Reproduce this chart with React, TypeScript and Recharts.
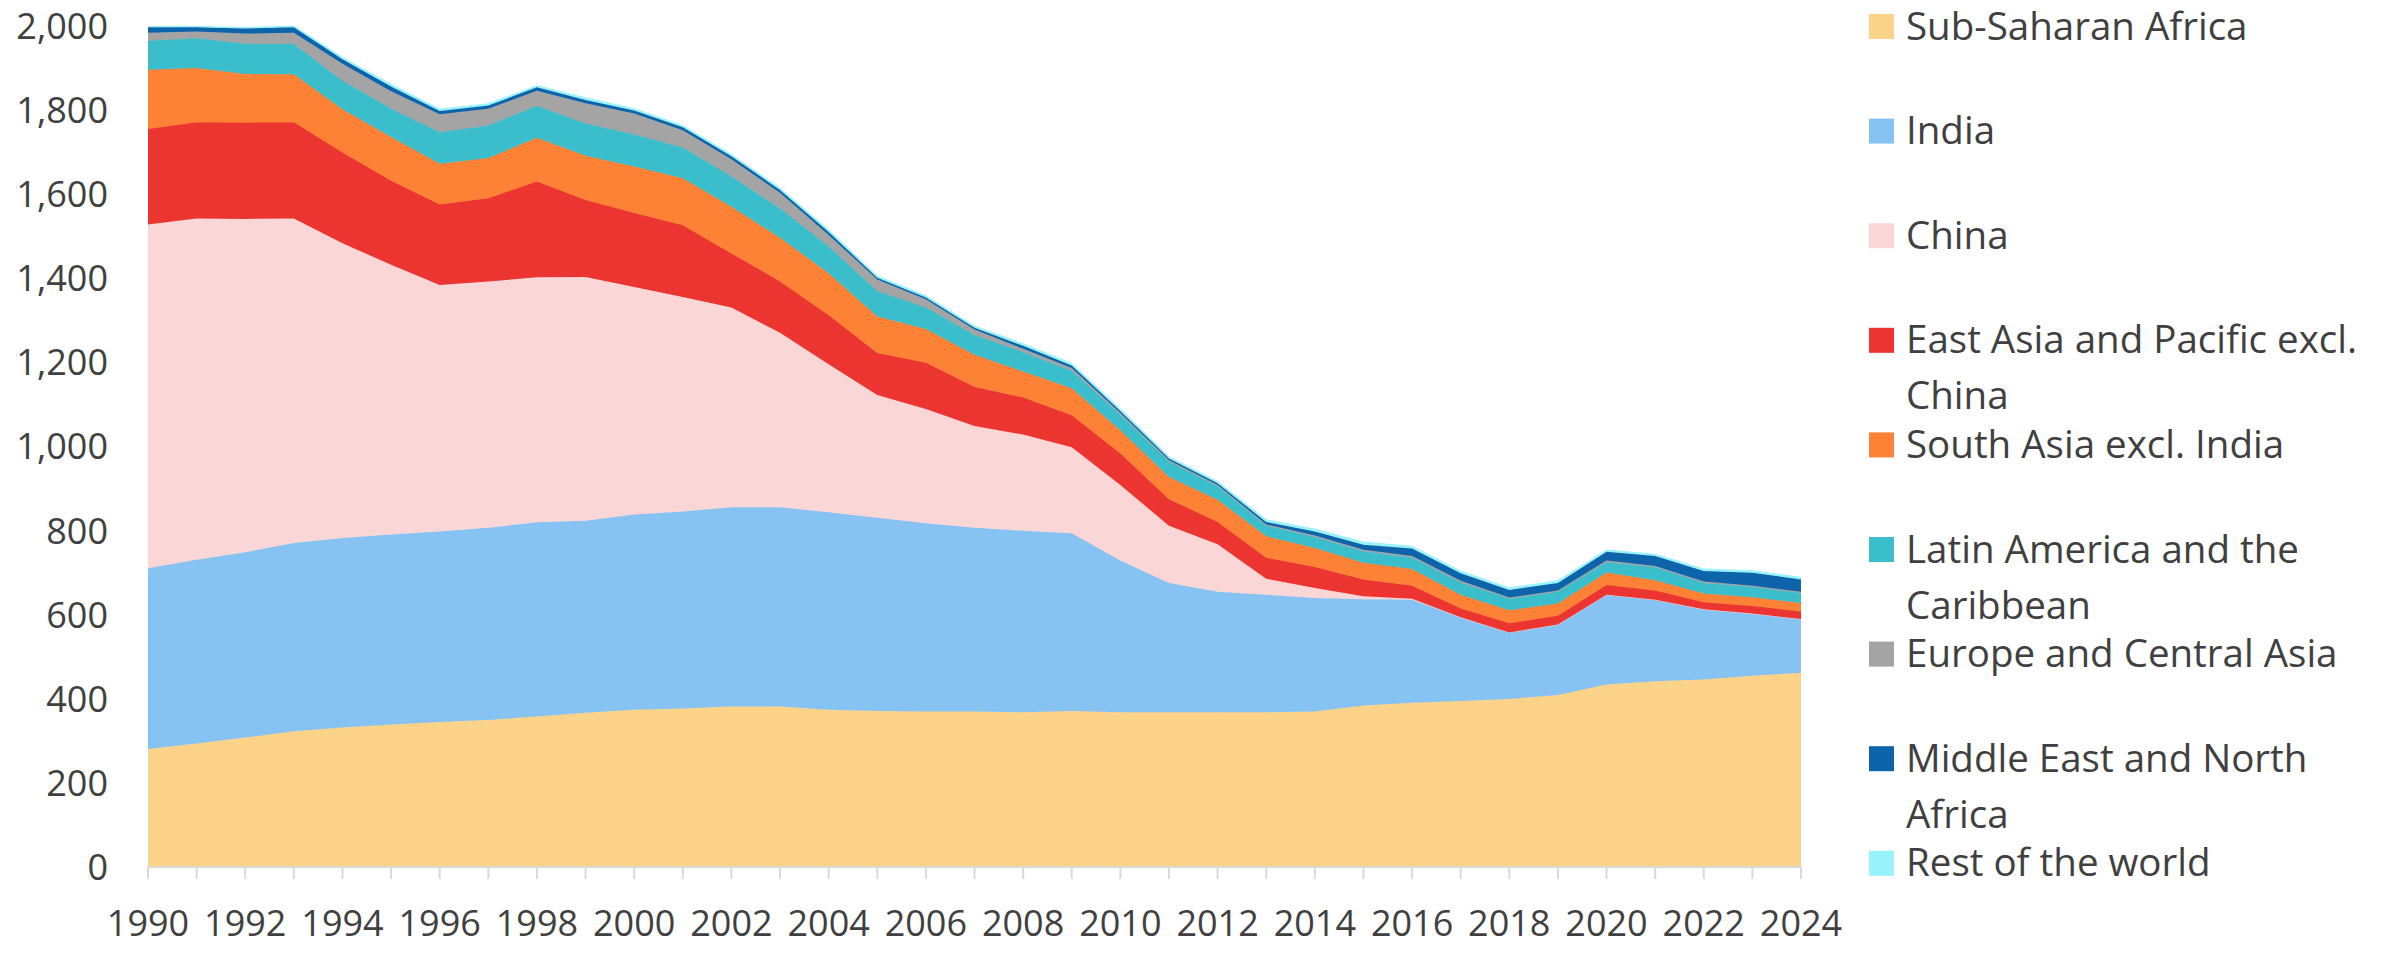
import { AreaChart, Area, XAxis, YAxis } from 'recharts'

const TEXT = '#404040'
const AXIS = '#d9d9d9'
const FONT = "'Open Sans', 'DejaVu Sans', sans-serif"

// ── Data (millions of people) ──────────────────────────────────────────────
const years = [
  1990, 1991, 1992, 1993, 1994, 1995, 1996, 1997, 1998, 1999,
  2000, 2001, 2002, 2003, 2004, 2005, 2006, 2007, 2008, 2009,
  2010, 2011, 2012, 2013, 2014, 2015, 2016, 2017, 2018, 2019,
  2020, 2021, 2022, 2023, 2024,
]
const yTicks = [0, 200, 400, 600, 800, 1000, 1200, 1400, 1600, 1800, 2000]

const subSaharan = [281, 294, 308, 323, 332, 339, 345, 350, 358, 367, 374, 377, 382, 382, 374, 371, 370, 370, 368, 371, 368, 368, 368, 368, 370, 384, 391, 395, 400, 409, 434, 442, 446, 455, 462]
const india = [430, 437, 441, 448, 451, 452, 453, 457, 462, 457, 465, 469, 474, 474, 470, 460, 448, 437, 432, 423, 361, 308, 287, 280, 270, 253, 245, 199, 158, 168, 214, 194, 167, 148, 128]
const china = [818, 812, 793, 772, 701, 642, 587, 586, 583, 580, 541, 510, 475, 415, 352, 292, 272, 242, 229, 205, 180, 136, 113, 38, 24, 7, 2, 0, 0, 0, 0, 0, 0, 0, 0]
const eastAsia = [227, 229, 229, 229, 216, 200, 191, 198, 228, 183, 176, 171, 129, 122, 117, 100, 110, 93, 88, 76, 75, 63, 53, 50, 50, 40, 31, 21, 22, 21, 23, 22, 17, 18, 18]
const southAsia = [141, 129, 116, 114, 103, 104, 97, 96, 104, 105, 111, 112, 111, 104, 100, 87, 80, 77, 62, 64, 55, 53, 53, 51, 45, 40, 40, 33, 31, 29, 30, 24, 21, 21, 20]
const latinAmerica = [69, 71, 72, 72, 68, 67, 75, 77, 76, 77, 76, 73, 72, 70, 64, 60, 51, 47, 46, 42, 37, 36, 32, 25, 26, 27, 27, 29, 27, 28, 24, 31, 25, 24, 24]
const europe = [19, 16, 24, 27, 40, 42, 43, 40, 36, 48, 50, 41, 41, 37, 27, 28, 20, 13, 8, 6, 4, 4, 3, 3, 4, 4, 4, 4, 3, 3, 4, 3, 3, 3, 3]
const middleEast = [13, 10, 12, 13, 11, 11, 8, 8, 8, 8, 7, 7, 7, 7, 7, 4, 4, 4, 7, 6, 5, 4, 4, 6, 9, 12, 18, 18, 18, 18, 21, 24, 25, 31, 29]
const restOfWorld = [2, 2, 2, 3, 4, 5, 4, 4, 4, 5, 4, 4, 4, 4, 5, 4, 4, 4, 5, 5, 5, 4, 4, 5, 6, 6, 5, 5, 5, 5, 4, 4, 5, 5, 5]

const series = [
  { key: 'ssa', name: 'Sub-Saharan Africa', lines: ['Sub-Saharan Africa'], color: '#FDD38A', values: subSaharan },
  { key: 'ind', name: 'India', lines: ['India'], color: '#86C3F2', values: india },
  { key: 'chn', name: 'China', lines: ['China'], color: '#FAD6D6', values: china },
  { key: 'eap', name: 'East Asia and Pacific excl. China', lines: ['East Asia and Pacific excl.', 'China'], color: '#EC3530', values: eastAsia },
  { key: 'sas', name: 'South Asia excl. India', lines: ['South Asia excl. India'], color: '#FE8235', values: southAsia },
  { key: 'lac', name: 'Latin America and the Caribbean', lines: ['Latin America and the', 'Caribbean'], color: '#3ABECB', values: latinAmerica },
  { key: 'eca', name: 'Europe and Central Asia', lines: ['Europe and Central Asia'], color: '#A4A4A4', values: europe },
  { key: 'mena', name: 'Middle East and North Africa', lines: ['Middle East and North', 'Africa'], color: '#0E64AB', values: middleEast },
  { key: 'row', name: 'Rest of the world', lines: ['Rest of the world'], color: '#98F3FC', values: restOfWorld },
]

const data = years.map((year, i) => {
  const row: Record<string, number> = { year }
  series.forEach(s => { row[s.key] = s.values[i] })
  return row
})

// ── Year tick: a mark for every year, a label every second year ────────────
function YearTick({ x, y, payload, index }: { x?: number; y?: number; payload?: { value: number }; index?: number }) {
  if ((index ?? 0) % 2 !== 0) return <g />
  return (
    <text x={x} y={(y ?? 0) + 57} textAnchor="middle" fill={TEXT} fontFamily={FONT} fontSize={36}>
      {payload?.value}
    </text>
  )
}

// ── Legend ──────────────────────────────────────────────────────────────────
function SideLegend() {
  return (
    <svg width={540} height={971} style={{ position: 'absolute', left: 1840, top: 0 }}>
      {series.map((s, i) => {
        const cy = 26.5 + i * 104.6
        return (
          <g key={s.key}>
            <rect x={29} y={cy - 12.5} width={25} height={25} fill={s.color} />
            {s.lines.map((line, j) => (
              <text key={j} x={66} y={cy + 13 + j * 56} fill={TEXT} fontFamily={FONT} fontSize={38.5}>{line}</text>
            ))}
          </g>
        )
      })}
    </svg>
  )
}

export default function App() {
  return (
    <div style={{ position: 'absolute', left: 0, top: 0, width: 2389, height: 971, background: '#fff' }}>
      <AreaChart width={1860} height={971} data={data} margin={{ top: 26, right: 59, bottom: 74, left: 0 }}>
        <XAxis
          dataKey="year"
          interval={0}
          tick={<YearTick />}
          tickSize={12}
          tickMargin={0}
          axisLine={{ stroke: AXIS, strokeWidth: 2 }}
          tickLine={{ stroke: AXIS, strokeWidth: 2 }}
        />
        <YAxis
          width={148}
          domain={[0, 2000]}
          ticks={yTicks}
          interval={0}
          axisLine={false}
          tickLine={false}
          tickSize={0}
          tickMargin={40}
          tick={{ fill: TEXT, fontFamily: FONT, fontSize: 36 }}
          tickFormatter={(v: number) => v.toLocaleString('en-US')}
        />
        {series.map(s => (
          <Area
            key={s.key}
            type="linear"
            dataKey={s.key}
            name={s.name}
            stackId="1"
            fill={s.color}
            fillOpacity={1}
            stroke={s.color}
            strokeWidth={1}
            isAnimationActive={false}
            dot={false}
            activeDot={false}
          />
        ))}
      </AreaChart>
      <SideLegend />
    </div>
  )
}
